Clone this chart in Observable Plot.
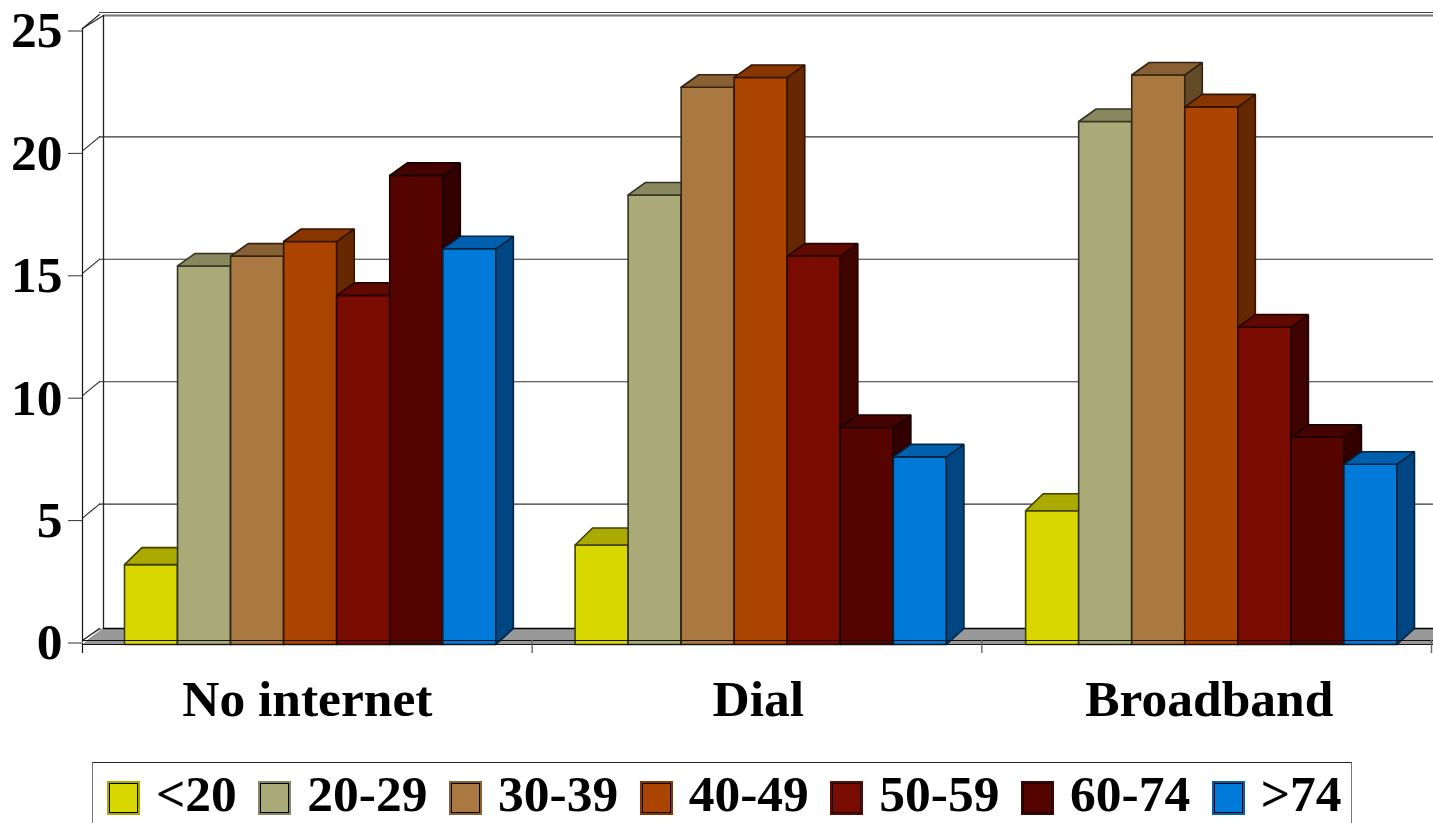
<!DOCTYPE html>
<html>
<head>
<meta charset="utf-8">
<script src="https://cdn.jsdelivr.net/npm/d3@7"></script>
<script src="https://cdn.jsdelivr.net/npm/@observablehq/plot@0.6"></script>
<style>
  html, body { margin: 0; padding: 0; background: #fff; overflow: hidden; }
  body { width: 1433px; height: 823px; }
  svg { display: block; }
  #legend {
    box-sizing: border-box;
    margin: 7px 0 0 92px;
    width: 1260px;
    height: 61px;
    border: 1px solid #222;
    border-bottom: none;
    border-left-color: #777;
    border-right-color: #777;
    padding: 18px 0 0 14px;
    display: flex;
    gap: 21.5px;
    font: bold 51.5px "Liberation Serif", serif;
  }
  #legend .item { display: flex; gap: 16px; }
  #legend .key {
    box-sizing: border-box;
    width: 33px;
    height: 34px;
  }
  #legend .name { height: 34px; line-height: 34px; margin-top: -4px; white-space: nowrap; }
</style>
</head>
<body>
<div id="chart"></div>
<div id="legend"></div>
<script>
// Connection types and the age bands shown within each of them.
const categories = ["No internet", "Dial", "Broadband"];
const ageBands = ["<20", "20-29", "30-39", "40-49", "50-59", "60-74", ">74"];

// Share per age band, one list per connection type.
const noInternet = [3.1, 15.3, 15.7, 16.3, 14.1, 19.0, 16.0];
const dial = [3.9, 18.2, 22.6, 23.0, 15.7, 8.7, 7.5];
const broadband = [5.3, 21.2, 23.1, 21.8, 12.8, 8.3, 7.2];
const seriesValues = [noInternet, dial, broadband];

const yTicks = [0, 5, 10, 15, 20, 25];

// Face shades of each age band.
const frontColors = ["#d8d800", "#aaaa78", "#aa7841", "#aa4400", "#7a0b00", "#550400", "#007ad8"];
const topColors = ["#aaaa00", "#88885f", "#886034", "#883600", "#5f0900", "#440200", "#0060ad"];
const sideColors = ["#808000", "#66664a", "#644b28", "#662800", "#3f0400", "#330000", "#004682"];

const font = '"Liberation Serif", serif';
const fontSize = 51.5;

// Layout in scale units: one x unit is a category, one y unit is a percentage point.
const pxX = 1 / 449.67;
const pxY = 1 / 24.48;
const barWidth = 53.05 * pxX;
const groupStart = 42 * pxX;
const groupSpread = 1.002;
const labelSpread = 1.0029;
const barFloor = -4 * pxY;
const barDepth = 17.5 * pxX;
const wallDepthX = 17 * pxX;
const wallDepthY = 14 * pxY;
const wallX = 21 * pxX;
const floorBack = 12 * pxY;
const xEnd = 3.0045;

// Each bar is three closed faces, painted left to right so neighbours overlap.
const polygons = [];
categories.forEach((category, c) => {
  seriesValues[c].forEach((value, s) => {
    const x0 = c * groupSpread + groupStart + s * barWidth;
    const x1 = x0 + barWidth;
    const rise = (s === 0 ? 17 : 12.5) * pxY;
    const edge = d3.color(frontColors[s]).darker(3.4).formatHex();
    const face = (name, color, points) => {
      const id = `${category}/${ageBands[s]}/${name}`;
      [...points, points[0]].forEach(([x, y]) => polygons.push({id, color, edge, x, y}));
    };
    face("front", frontColors[s], [[x0, barFloor], [x1, barFloor], [x1, value], [x0, value]]);
    face("side", sideColors[s], [
      [x1, barFloor], [x1 + barDepth, barFloor + 16 * pxY],
      [x1 + barDepth, value + rise], [x1, value]
    ]);
    face("top", topColors[s], [
      [x0, value], [x1, value], [x1 + barDepth, value + rise], [x0 + barDepth, value + rise]
    ]);
  });
});

// Slanted links between the front axis and the back wall.
const wallLinks = yTicks.slice(1).flatMap((v) => [
  {id: v, x: 0, y: v},
  {id: v, x: wallDepthX, y: v + wallDepthY}
]);
const topLink = [{x: 0, y: 25}, {x: wallX, y: 25 + 13 * pxY}];
const floorEdge = [
  {x: 0, y: barFloor}, {x: wallDepthX, y: floorBack},
  {x: xEnd, y: floorBack}, {x: xEnd, y: barFloor}, {x: 0, y: barFloor}
];
const floorSeam = [{x: 0, y: 0}, {x: wallDepthX, y: floorBack}];
const floorGlint = [{x: 0, y: -2 * pxY}, {x: wallDepthX, y: floorBack - 2 * pxY}];

const chart = Plot.plot({
  width: 1433,
  height: 755,
  marginLeft: 82,
  marginRight: 2,
  marginTop: 28,
  marginBottom: 115,
  style: {overflow: "visible", background: "transparent"},
  x: {domain: [0, 3], range: [82, 1431], axis: null},
  y: {domain: [0, 25], axis: null},
  color: {type: "identity"},
  marks: [
    // Back wall and its gridlines
    Plot.ruleY(yTicks.slice(1, -1), {x1: wallDepthX, x2: xEnd, y: (d) => d + wallDepthY, stroke: "#333", strokeWidth: 1.1}),
    Plot.ruleY([25 + 13 * pxY], {x1: wallX, x2: xEnd, stroke: "#777", strokeWidth: 2.2}),
    Plot.ruleY([25 + 16 * pxY], {x1: wallDepthX, x2: xEnd, stroke: "#444", strokeWidth: 1.2}),
    Plot.line(wallLinks, {x: "x", y: "y", z: "id", stroke: "#222", strokeWidth: 1.1}),
    Plot.line(topLink, {x: "x", y: "y", stroke: "#222", strokeWidth: 1.1}),
    Plot.ruleX([wallX], {y1: floorBack, y2: 25 + 13 * pxY, stroke: "#222", strokeWidth: 1.3}),
    Plot.ruleX([0], {y1: -13 * pxY, y2: 25, stroke: "#111", strokeWidth: 1.2}),

    // Floor
    Plot.line(floorEdge, {x: "x", y: "y", fill: "#999999", stroke: "none"}),
    Plot.line(floorSeam, {x: "x", y: "y", stroke: "#111", strokeWidth: 1.1}),
    Plot.line(floorGlint, {x: "x", y: "y", stroke: "#fff", strokeWidth: 1}),
    Plot.ruleY([floorBack], {x1: wallX, x2: xEnd, stroke: "#000", strokeWidth: 1.6}),

    // Bars
    Plot.line(polygons, {
      x: "x", y: "y", z: "id", fill: "color", stroke: "edge",
      strokeWidth: 1.6, strokeLinejoin: "miter", curve: "linear"
    }),

    // Front edge of the floor and category ticks
    Plot.ruleY([0], {x1: 0, x2: xEnd, stroke: "#111", strokeWidth: 1}),
    Plot.ruleY([barFloor], {x1: 0, x2: xEnd, stroke: "#111", strokeWidth: 1.2}),
    Plot.ruleX([1, 2, 3], {y1: 0, y2: -13 * pxY, stroke: "#666", strokeWidth: 1.4}),

    // Value axis
    Plot.axisY(yTicks, {
      anchor: "left", tickSize: 14, tickPadding: 6, stroke: "#333",
      fontSize, fontWeight: "bold", fontFamily: font, fill: "#000", dy: 2.5, label: null
    }),

    // Category labels
    Plot.text(categories, {
      x: (d, i) => 0.5 + i * labelSpread,
      y: -3.07,
      text: (d) => d,
      textAnchor: "middle",
      lineAnchor: "bottom",
      fontSize, fontWeight: "bold", fontFamily: font, fill: "#000"
    })
  ]
});
document.getElementById("chart").append(chart);

// Legend row under the plot
const legend = d3.select("#legend");
ageBands.forEach((band, s) => {
  const item = legend.append("div").attr("class", "item");
  item.append("div").attr("class", "key")
    .style("background", frontColors[s])
    .style("box-shadow", `inset 0 0 0 2px ${topColors[s]}, inset 0 0 0 3px #000`);
  item.append("div").attr("class", "name").text(band);
});
</script>
</body>
</html>
